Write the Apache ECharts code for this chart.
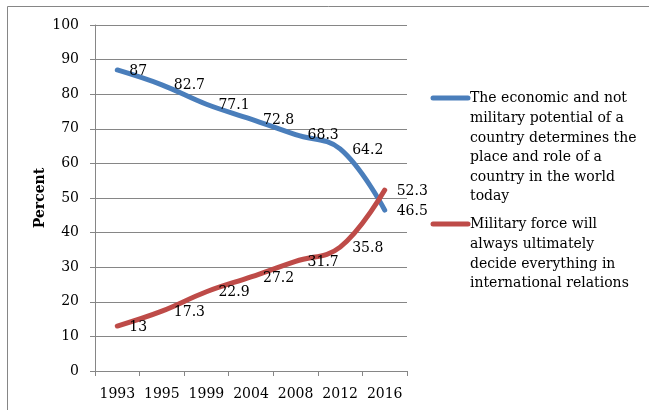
<!DOCTYPE html>
<html>
<head>
<meta charset="utf-8">
<script src="https://cdn.jsdelivr.net/npm/echarts@6/dist/echarts.min.js"></script>
<style>
html,body{margin:0;padding:0;background:#fff;}
#c{width:649px;height:410px;}
</style>
</head>
<body>
<div id="c"></div>
<script>
var categories = ['1993','1995','1999','2004','2008','2012','2016'];
var economicValues = [87, 82.7, 77.1, 72.8, 68.3, 64.2, 46.5];
var militaryValues = [13, 17.3, 22.9, 27.2, 31.7, 35.8, 52.3];
var seriesNames = [
  'The economic and not\nmilitary potential of a\ncountry determines the\nplace and role of a\ncountry in the world\ntoday',
  'Military force will\nalways ultimately\ndecide everything in\ninternational relations'
];
var yAxisName = 'Percent';

var FONT = 'DejaVu Serif';
var BLUE = '#4A7EBB';
var RED = '#BE4B48';
var GREY = '#868686';

var chart = echarts.init(document.getElementById('c'));
var labelCfg = {
  show: true, position: 'right', distance: 12, offset: [0, 1],
  fontFamily: FONT, fontSize: 14, color: '#000'
};
chart.setOption({
  animation: false,
  grid: {left: 95, right: 242, top: 25, bottom: 39},
  xAxis: {
    type: 'category', data: categories, boundaryGap: true,
    axisLine: {lineStyle: {color: GREY, width: 1}},
    axisTick: {show: true, length: 5, lineStyle: {color: GREY}},
    axisLabel: {fontFamily: FONT, fontSize: 14, color: '#000', margin: 16, interval: 0}
  },
  yAxis: {
    type: 'value', min: 0, max: 100, interval: 10,
    name: yAxisName, nameLocation: 'middle', nameGap: 48, nameRotate: 90,
    nameTextStyle: {fontFamily: FONT, fontSize: 14, fontWeight: 'bold', color: '#000'},
    axisLine: {show: true, lineStyle: {color: GREY, width: 1}},
    axisTick: {show: true, length: 5, lineStyle: {color: GREY}},
    axisLabel: {fontFamily: FONT, fontSize: 14, color: '#000', margin: 16},
    splitLine: {lineStyle: {color: GREY, width: 1}}
  },
  series: [
    {
      name: seriesNames[0], type: 'line', data: economicValues, smooth: 0.4,
      symbol: 'circle', symbolSize: 0, showSymbol: true,
      lineStyle: {color: BLUE, width: 5, cap: 'round'},
      itemStyle: {color: BLUE}, label: labelCfg, z: 2
    },
    {
      name: seriesNames[1], type: 'line', data: militaryValues, smooth: 0.4,
      symbol: 'circle', symbolSize: 0, showSymbol: true,
      lineStyle: {color: RED, width: 5, cap: 'round'},
      itemStyle: {color: RED}, label: labelCfg, z: 3
    }
  ],
  graphic: [
    {type: 'rect', shape: {x: 7.5, y: 6.5, width: 700, height: 500},
     style: {fill: 'none', stroke: GREY, lineWidth: 1}, silent: true},
    {type: 'line', shape: {x1: 433, y1: 98, x2: 468, y2: 98},
     style: {stroke: BLUE, lineWidth: 5, lineCap: 'round'}},
    {type: 'text', x: 470, y: 89,
     style: {text: seriesNames[0], fontFamily: FONT, fontSize: 14, lineHeight: 19.6, fill: '#000'}},
    {type: 'line', shape: {x1: 433, y1: 224, x2: 468, y2: 224},
     style: {stroke: RED, lineWidth: 5, lineCap: 'round'}},
    {type: 'text', x: 470, y: 215,
     style: {text: seriesNames[1], fontFamily: FONT, fontSize: 14, lineHeight: 19.6, fill: '#000'}}
  ]
});
</script>
</body>
</html>
